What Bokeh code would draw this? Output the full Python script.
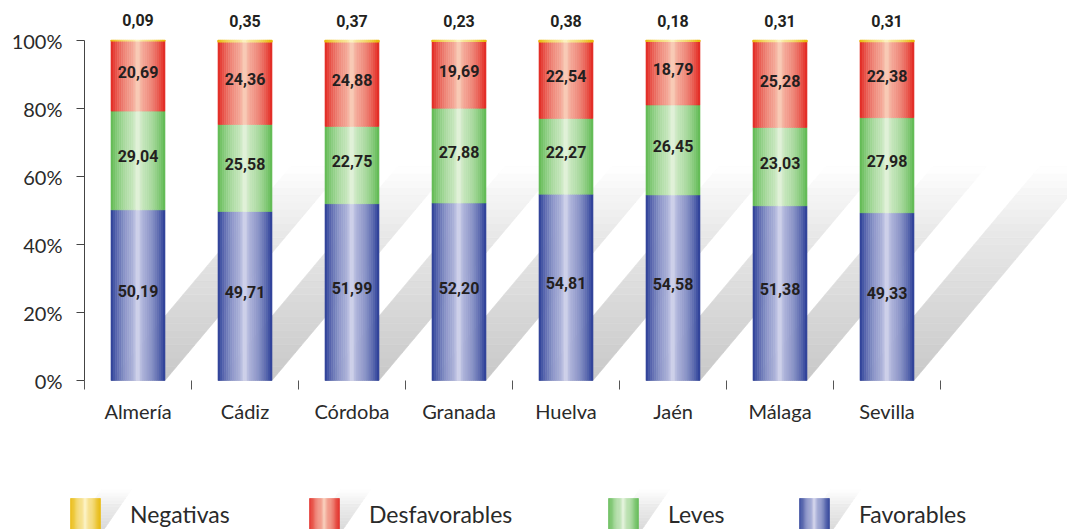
import math
from bokeh.plotting import figure
from bokeh.models import Range1d, FixedTicker, ColumnDataSource, Legend, LegendItem, LinearAxis
from bokeh.core.properties import value
from bokeh.embed import file_html
from bokeh.resources import INLINE

# ---------------- data ----------------
provinces = ["Almería", "Cádiz", "Córdoba", "Granada", "Huelva", "Jaén", "Málaga", "Sevilla"]
favorables = [50.19, 49.71, 51.99, 52.20, 54.81, 54.58, 51.38, 49.33]
leves = [29.04, 25.58, 22.75, 27.88, 22.27, 26.45, 23.03, 27.98]
desfavorables = [20.69, 24.36, 24.88, 19.69, 22.54, 18.79, 25.28, 22.38]
negativas = [0.09, 0.35, 0.37, 0.23, 0.38, 0.18, 0.31, 0.31]
y_ticks = [0, 20, 40, 60, 80, 100]
y_tick_labels = ["0%", "20%", "40%", "60%", "80%", "100%"]
legend_order = ["Negativas", "Desfavorables", "Leves", "Favorables"]

# ---------------- styles ----------------
EDGE = {"Favorables": (40, 60, 150), "Leves": (92, 184, 78),
        "Desfavorables": (226, 36, 30), "Negativas": (232, 182, 0)}
HIGH = {"Favorables": (206, 208, 234), "Leves": (224, 241, 216),
        "Desfavorables": (248, 202, 182), "Negativas": (252, 241, 192)}
TXT = "#231f20"
AXIS_FONT = "Lato"
VAL_FONT = "Roboto"

def mix(c1, c2, w):
    return "#%02x%02x%02x" % tuple(int(round(a * (1 - w) + b * w)) for a, b in zip(c1, c2))

def wprof(t):
    base = math.sin(math.pi * t) ** 0.9
    peak = math.exp(-((t - 0.5) / 0.06) ** 2)
    return min(1.0, 0.8 * base + 0.22 * peak)

def gray(f):
    if f <= 0.7:
        g = 200 + 33 * f / 0.7
    else:
        g = 233 + 22 * (f - 0.7) / 0.3
    g = int(round(min(255, g)))
    return "#%02x%02x%02x" % (g, g, g)

# ---------------- layout (screen px) ----------------
W = 1067
H = 529
PX_UNIT = 107.0      # px per category
PX_PCT = 3.4         # px per percent
AXIS_X_PX = 84       # y axis position
ZERO_Y_PX = 380      # 0% position
BW = 54 / PX_UNIT
NSTRIP = 26
SH_DX = 1.68
SH_H = 63.0

x0 = -0.5 - AXIS_X_PX / PX_UNIT
y1 = (ZERO_Y_PX) / PX_PCT
y0 = -(H - ZERO_Y_PX) / PX_PCT

def px_x(px):
    return x0 + px / PX_UNIT

def px_y(py):
    return (ZERO_Y_PX - py) / PX_PCT

p = figure(width=W, height=H, title=None,
           x_range=Range1d(x0, x0 + W / PX_UNIT), y_range=Range1d(y0, y1),
           x_axis_type=None, y_axis_type=None,
           output_backend="svg", toolbar_location=None,
           min_border_left=0, min_border_right=0, min_border_top=0, min_border_bottom=0)
p.outline_line_color = None
p.background_fill_color = "white"
p.border_fill_color = "white"

n = len(provinces)
idx = list(range(n))

# ---- shadows ----
M = 30
xs, ys, cs = [], [], []
for i in idx:
    for m in range(M):
        f0, f1 = m / M, (m + 1) / M
        h0, h1 = SH_H * f0, SH_H * f1
        s0, s1 = SH_DX * f0, SH_DX * f1
        xs.append([i - BW / 2 + s0, i + BW / 2 + s0, i + BW / 2 + s1, i - BW / 2 + s1])
        ys.append([h0, h0, h1, h1])
        cs.append(gray((f0 + f1) / 2))
p.patches(xs=xs, ys=ys, fill_color=cs, line_color=cs, line_width=0.6)

# ---- bars (gradient strips) ----
series = [("Favorables", favorables), ("Leves", leves),
          ("Desfavorables", desfavorables), ("Negativas", negativas)]
bottoms = [0.0] * n
seg_info = []
for name, vals in series:
    d = {"x": [], "bottom": [], "top": [], "color": []}
    for i in idx:
        for k in range(NSTRIP):
            t = (k + 0.5) / NSTRIP
            d["x"].append(i - BW / 2 + t * BW)
            d["bottom"].append(bottoms[i])
            d["top"].append(bottoms[i] + vals[i])
            d["color"].append(mix(EDGE[name], HIGH[name], wprof(t)))
    lw = 1.6 if name == "Negativas" else 0.6
    p.vbar(x="x", bottom="bottom", top="top", width=BW / NSTRIP, fill_color="color",
           line_color="color", line_width=lw, source=ColumnDataSource(d))
    seg_info.append((name, vals, list(bottoms)))
    bottoms = [b + v for b, v in zip(bottoms, vals)]

def fmt(v):
    return ("%.2f" % v).replace(".", ",")

# ---- value labels ----
lx, ly, lt = [], [], []
for name, vals, bots in seg_info:
    if name == "Negativas":
        continue
    for i in idx:
        lx.append(i)
        ly.append(bots[i] + vals[i] / 2)
        lt.append(fmt(vals[i]))
p.text(x=lx, y=ly, text=lt, text_align="center", text_baseline="middle", y_offset=-4,
       text_font=value(VAL_FONT), text_font_style="bold", text_font_size="16px", text_color=TXT)

p.text(x=idx, y=bottoms, text=[fmt(v) for v in negativas], text_align="center",
       text_baseline="middle", y_offset=-20,
       text_font=value(VAL_FONT), text_font_style="bold", text_font_size="16px", text_color=TXT)

# ---- axes (fixed inside the frame) ----
xa = LinearAxis(fixed_location=0)
xa.ticker = FixedTicker(ticks=idx, minor_ticks=[i - 0.5 for i in range(n + 1)])
xa.major_label_overrides = {i: provinces[i] for i in idx}
xa.bounds = (-0.5, n - 0.5)
xa.axis_line_color = None
xa.major_tick_line_color = None
xa.major_tick_out = 0
xa.major_tick_in = 0
xa.minor_tick_in = 0
xa.minor_tick_out = 9
xa.minor_tick_line_color = "#555555"
xa.minor_tick_line_width = 1
xa.major_label_standoff = 9
xa.major_label_text_font = AXIS_FONT
xa.major_label_text_font_size = "20px"
xa.major_label_text_color = "#2a2a2a"
p.add_layout(xa, "below")

ya = LinearAxis(fixed_location=-0.5)
ya.ticker = FixedTicker(ticks=y_ticks, minor_ticks=[])
ya.major_label_overrides = {t: l for t, l in zip(y_ticks, y_tick_labels)}
ya.bounds = (0, 100)
ya.axis_line_color = "#444444"
ya.major_tick_line_color = "#444444"
ya.major_tick_out = 8
ya.major_tick_in = 0
ya.minor_tick_line_color = None
ya.major_label_standoff = 14
ya.major_label_text_font = AXIS_FONT
ya.major_label_text_font_size = "20px"
ya.major_label_text_color = "#2a2a2a"
p.add_layout(ya, "left")

# ---------------- legend ----------------
SW_LEFT = [70, 309, 608, 799]
SW_W = 30
SW_TOP = 498
SW_H = 32
SHB = 534
SHT = 489
SHDX = 31

lxs, lys, lcs = [], [], []
for left in SW_LEFT:
    MM = 16
    for m in range(MM):
        f0, f1 = m / MM, (m + 1) / MM
        ya0 = SHB - (SHB - SHT) * f0
        ya1 = SHB - (SHB - SHT) * f1
        s0, s1 = SHDX * f0, SHDX * f1
        lxs.append([px_x(left + s0), px_x(left + SW_W + s0), px_x(left + SW_W + s1), px_x(left + s1)])
        lys.append([px_y(ya0), px_y(ya0), px_y(ya1), px_y(ya1)])
        lcs.append(gray(0.3 + 0.7 * (f0 + f1) / 2))
p.patches(xs=lxs, ys=lys, fill_color=lcs, line_color=lcs, line_width=0.6)

for name, left in zip(legend_order, SW_LEFT):
    d = {"x": [], "color": []}
    for k in range(NSTRIP):
        t = (k + 0.5) / NSTRIP
        d["x"].append(px_x(left + t * SW_W))
        d["color"].append(mix(EDGE[name], HIGH[name], wprof(t)))
    p.vbar(x="x", bottom=px_y(SW_TOP + SW_H), top=px_y(SW_TOP), width=SW_W / PX_UNIT / NSTRIP,
           fill_color="color", line_color="color", line_width=0.6, source=ColumnDataSource(d))

for name, left in zip(legend_order, SW_LEFT):
    dummy = p.vbar(x=[], top=[], width=1, fill_alpha=0, line_alpha=0)
    leg = Legend(items=[LegendItem(label=name, renderers=[dummy])],
                 location=(left, H - (SW_TOP + SW_H)), orientation="horizontal",
                 glyph_width=SW_W, glyph_height=SW_H, label_height=SW_H, label_standoff=30,
                 padding=0, margin=0, spacing=0,
                 border_line_color=None, background_fill_alpha=0,
                 label_text_font=AXIS_FONT, label_text_font_size="23px",
                 label_text_color="#2a2a2a")
    p.add_layout(leg)

open("out.html", "w").write(file_html(p, INLINE))
